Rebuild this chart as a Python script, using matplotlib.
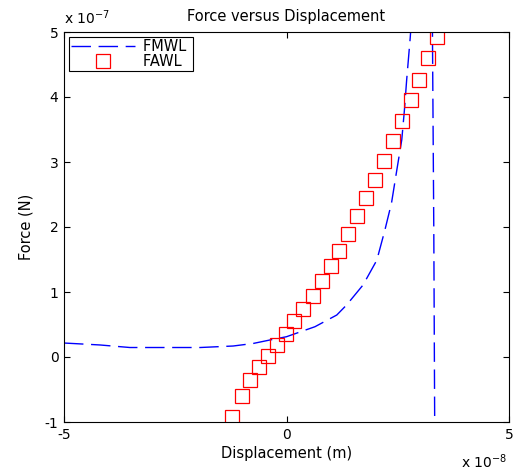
import matplotlib
matplotlib.use("Agg")
import matplotlib.pyplot as plt
import numpy as np

plt.rcParams['font.family'] = ['DejaVu Sans']
plt.rcParams['mathtext.fontset'] = 'dejavusans'

# Model curve (FMWL): displacement in 1e-8 m, force in 1e-7 N
fmwl_x = [-5.0, -4.19, -3.52, -3.07, -1.94, -1.20, -0.75, -0.37, 0.0, 0.64,
          1.13, 1.35, 1.72, 2.03, 2.21, 2.36, 2.48, 2.59, 2.65, 2.70, 2.78,
          2.82, 3.28, 3.28, 3.31, 3.33, 3.34]
fmwl_y = [0.215, 0.185, 0.146, 0.146, 0.146, 0.169, 0.208, 0.262, 0.312, 0.466,
          0.646, 0.80, 1.108, 1.49, 1.95, 2.37, 2.88, 3.34, 3.80, 4.26, 4.91,
          5.3, 5.3, 4.95, 1.95, -1.0, -1.3]

# Approximation (FAWL)
fawl_x = [-1.225, -1.0, -0.82, -0.618, -0.416, -0.213, -0.011, 0.169, 0.371, 0.596,
          0.798, 1.0, 1.18, 1.382, 1.584, 1.787, 1.989, 2.191, 2.393, 2.596,
          2.798, 2.978, 3.18, 3.382]
fawl_y = [-0.923, -0.6, -0.354, -0.154, 0.015, 0.185, 0.354, 0.554, 0.738, 0.938,
          1.169, 1.4, 1.63, 1.892, 2.169, 2.446, 2.723, 3.015, 3.323, 3.631,
          3.954, 4.262, 4.6, 4.923]

x_ticks = [-5, 0, 5]
y_ticks = [-1, 0, 1, 2, 3, 4, 5]

fig = plt.figure(figsize=(5.19, 4.70), dpi=100)
ax = fig.add_axes([64 / 519, 48 / 470, 445 / 519, 390 / 470])

ax.plot(fmwl_x, fmwl_y, color='#0000ff', lw=1.0, dashes=(14, 5.5), label='FMWL ')
ax.plot(fawl_x, fawl_y, ls='none', marker='s', markersize=9.5,
        markerfacecolor='none', markeredgecolor='#ff0000', markeredgewidth=0.9,
        label='FAWL ')

ax.set_xlim(-5, 5)
ax.set_ylim(-1, 5)
ax.set_xticks(x_ticks)
ax.set_yticks(y_ticks)
ax.set_xticklabels([str(v) for v in x_ticks])
ax.set_yticklabels([str(v) for v in y_ticks])
ax.tick_params(direction='in', length=4, width=0.8, labelsize=10,
               top=True, right=True, pad=4, colors='black')
for s in ax.spines.values():
    s.set_linewidth(0.8)

ax.set_title('Force versus Displacement', fontsize=10.5, pad=8)
ax.set_xlabel('Displacement (m)', fontsize=10.5, labelpad=3)
ax.set_ylabel('Force (N)', fontsize=10.5, labelpad=8)

ax.text(0.0, 1.012, r'x 10$^{-7}$', transform=ax.transAxes, fontsize=10,
        ha='left', va='bottom')
ax.text(0.995, -0.078, r'x 10$^{-8}$', transform=ax.transAxes, fontsize=10,
        ha='right', va='top')

leg = ax.legend(loc='upper left', fontsize=10.5, frameon=True, fancybox=False,
                edgecolor='black', framealpha=1, borderaxespad=0.35,
                handlelength=4.4, handletextpad=0.5, borderpad=0.15,
                labelspacing=0.0)
leg.get_frame().set_linewidth(0.8)

fig.savefig('out.png', dpi=100)
